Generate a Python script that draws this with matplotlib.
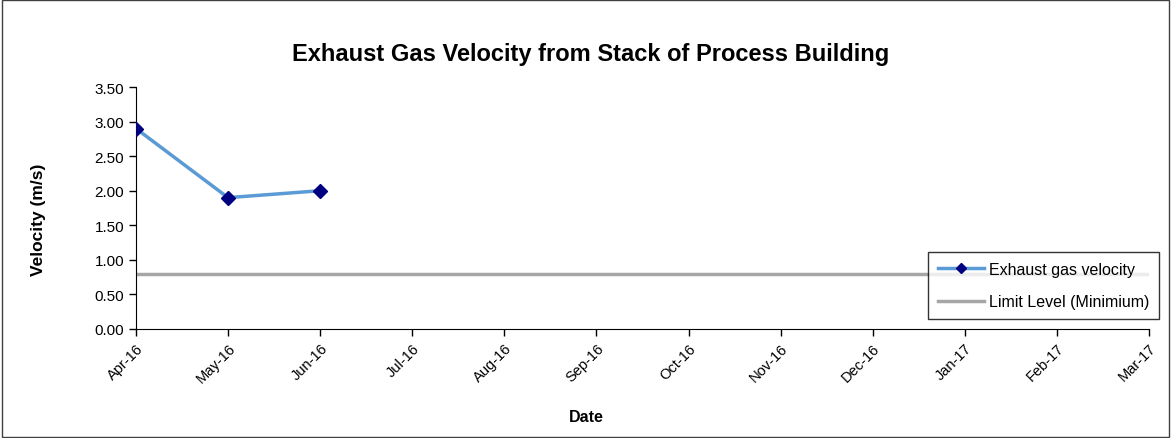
import numpy as np
import matplotlib
matplotlib.use("Agg")
import matplotlib.pyplot as plt
from matplotlib.patches import Rectangle

plt.rcParams['font.family'] = ['Liberation Sans', 'DejaVu Sans']

months = ["Apr-16", "May-16", "Jun-16", "Jul-16", "Aug-16", "Sep-16",
          "Oct-16", "Nov-16", "Dec-16", "Jan-17", "Feb-17", "Mar-17"]
velocity = [2.90, 1.90, 2.00]
limit_level = 0.80

fig = plt.figure(figsize=(11.71, 4.39), dpi=100)
ax = fig.add_axes([0.1161, 0.2483, 0.8651, 0.5512])

x = np.arange(len(months))
ax.plot(x[:len(velocity)], velocity, color="#5b9bd5", lw=2.5, marker="D",
        markersize=7, markerfacecolor="#000080", markeredgecolor="#000080",
        label="Exhaust gas velocity", zorder=3)
ax.plot(x, [limit_level] * len(months), color="#a6a6a6", lw=2.5,
        label="Limit Level (Minimium)", zorder=2)

ax.set_xlim(0, len(months) - 1)
ax.set_ylim(0, 3.5)
ax.set_xticks(x)
ax.set_xticklabels(months, rotation=45, ha="right", rotation_mode="anchor", fontsize=10.5)
ax.set_yticks(np.arange(0, 3.51, 0.5))
ax.set_yticklabels([f"{v:.2f}" for v in np.arange(0, 3.51, 0.5)], fontsize=11)
ax.tick_params(direction="out", length=5, width=1, colors="black")
for s in ["top", "right"]:
    ax.spines[s].set_visible(False)

# title and axis names sit centred on the whole chart, like the Excel original
fig.text(591 / 1171, 1 - 55 / 439, "Exhaust Gas Velocity from Stack of Process Building",
         fontsize=17, fontweight="bold", ha="center", va="center")
fig.text(38 / 1171, 1 - 220 / 439, "Velocity (m/s)", fontsize=12.5, fontweight="bold",
         rotation=90, ha="center", va="center")
fig.text(586 / 1171, 1 - 418 / 439, "Date", fontsize=11.5, fontweight="bold",
         ha="center", va="center")

leg = fig.legend(loc="upper left", bbox_to_anchor=(928 / 1171, 1 - 253 / 439),
                 fontsize=11.5, frameon=True, fancybox=False, edgecolor="black",
                 handlelength=2.9, handletextpad=0.3, borderpad=0.6,
                 borderaxespad=0, labelspacing=1.1, markerscale=0.7)
leg.get_frame().set_linewidth(1)

fig.patches.append(Rectangle((0.002, 0.003), 0.996, 0.994, transform=fig.transFigure,
                             fill=False, edgecolor="#404040", lw=1))

fig.savefig("out.png", dpi=100)
